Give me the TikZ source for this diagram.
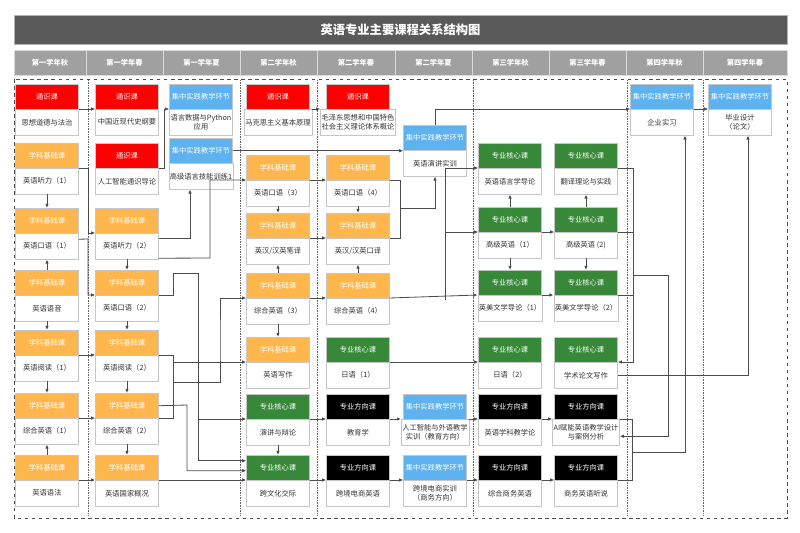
\documentclass[tikz,border=0pt]{standalone}
\usepackage{fontspec}
\setmainfont{Noto Sans CJK SC}
\usetikzlibrary{calc,arrows.meta}
\definecolor{tsred}{RGB}{255,0,0}
\definecolor{jcorange}{RGB}{255,183,77}
\definecolor{hxgreen}{RGB}{56,136,58}
\definecolor{sjblue}{RGB}{94,178,240}
\definecolor{titlegray}{RGB}{89,89,89}
\definecolor{headgray}{RGB}{160,160,160}
\tikzset{
  hd/.style={anchor=north,minimum width=1.89cm,minimum height=0.75cm,inner sep=0pt,
    draw=gray!45,text=white,font=\fontsize{6.2}{7.4}\selectfont},
  bd/.style={anchor=north,minimum width=1.89cm,minimum height=0.78cm,inner sep=1pt,
    draw=gray!45,fill=white,text=black!80,align=center,font=\fontsize{6.2}{7.4}\selectfont},
  tongshi/.style={fill=tsred},
  jichu/.style={fill=jcorange},
  hexin/.style={fill=hxgreen},
  fangxiang/.style={fill=black},
  shijian/.style={fill=sjblue},
  lk/.style={draw=black!70,line width=0.7pt,-{Latex[length=3.5pt,width=3pt]}},
  jn/.style={draw=black!70,line width=0.7pt}
}
% course box: name, x, top, kind, header, body
\newcommand{\crs}[6]{
  \node[hd,#4] (#1h) at (#2,#3) {#5};
  \node[bd] (#1) at (#2,#3+25) {#6};
}
\begin{document}
\begin{tikzpicture}[x=0.03cm,y=-0.03cm]
  \useasboundingbox (0,0) rectangle (800,533);
  % title and terms
  \node[fill=titlegray,draw=gray!60,minimum width=23.19cm,minimum height=0.87cm,text=white,
    font=\bfseries\fontsize{10.5}{12}\selectfont] (title) at (400.5,30) {英语专业主要课程关系结构图};
  \foreach \xa/\xb/\t in {14/86/第一学年秋,86/163/第一学年春,163/240/第一学年夏,240/317/第二学年秋,
      317/395/第二学年春,395/472/第二学年夏,472/549/第三学年秋,549/626/第三学年春,
      626/703/第四学年秋,703/787/第四学年春}
    \draw[draw=gray!30,fill=headgray] (\xa,50) rectangle (\xb,75)
      node[midway,text=white,font=\bfseries\fontsize{6.2}{7}\selectfont] {\t};
  \draw[dashed,draw=black!70,line width=0.7pt] (14,79) rectangle (787,518);
  \foreach \x in {88,240,317,473,627,703}
    \draw[densely dotted,draw=black!60] (\x,80) -- (\x,516);

  % first year autumn
  \crs{a1}{47}{84}{tongshi}{通识课}{思想道德与法治}
  \crs{a2}{47}{143}{jichu}{学科基础课}{英语听力（1）}
  \crs{a3}{47}{208}{jichu}{学科基础课}{英语口语（1）}
  \crs{a4}{47}{270}{jichu}{学科基础课}{英语语音}
  \crs{a5}{47}{330}{jichu}{学科基础课}{英语阅读（1）}
  \crs{a6}{47}{393}{jichu}{学科基础课}{综合英语（1）}
  \crs{a7}{47}{455}{jichu}{学科基础课}{英语语法}
  % first year spring
  \crs{b1}{127}{84}{tongshi}{通识课}{中国近现代史纲要}
  \crs{b2}{127}{143}{tongshi}{通识课}{人工智能通识导论}
  \crs{b3}{127}{208}{jichu}{学科基础课}{英语听力（2）}
  \crs{b4}{127}{270}{jichu}{学科基础课}{英语口语（2）}
  \crs{b5}{127}{330}{jichu}{学科基础课}{英语阅读（2）}
  \crs{b6}{127}{393}{jichu}{学科基础课}{综合英语（2）}
  \crs{b7}{127}{455}{jichu}{学科基础课}{英语国家概况}
  % first year summer
  \crs{c1}{201}{84}{shijian}{集中实践教学环节}{语言数据与Python\\应用}
  \crs{c2}{201}{138}{shijian}{集中实践教学环节}{高级语言技能训练1}
  % second year autumn
  \crs{d1}{278}{84}{tongshi}{通识课}{马克思主义基本原理}
  \crs{d2}{278}{155}{jichu}{学科基础课}{英语口语（3）}
  \crs{d3}{278}{213}{jichu}{学科基础课}{英汉/汉英笔译}
  \crs{d4}{278}{273}{jichu}{学科基础课}{综合英语（3）}
  \crs{d5}{278}{337}{jichu}{学科基础课}{英语写作}
  \crs{d6}{278}{394}{hexin}{专业核心课}{演讲与辩论}
  \crs{d7}{278}{455}{hexin}{专业核心课}{跨文化交际}
  % second year spring
  \crs{e1}{358}{84}{tongshi}{通识课}{毛泽东思想和中国特色\\社会主义理论体系概论}
  \crs{e2}{358}{155}{jichu}{学科基础课}{英语口语（4）}
  \crs{e3}{358}{213}{jichu}{学科基础课}{英汉/汉英口译}
  \crs{e4}{358}{273}{jichu}{学科基础课}{综合英语（4）}
  \crs{e5}{358}{337}{hexin}{专业核心课}{日语（1）}
  \crs{e6}{358}{394}{fangxiang}{专业方向课}{教育学}
  \crs{e7}{358}{455}{fangxiang}{专业方向课}{跨境电商英语}
  % second year summer
  \crs{f1}{435}{125}{shijian}{集中实践教学环节}{英语演讲实训}
  \crs{f6}{435}{394}{shijian}{集中实践教学环节}{人工智能与外语教学\\实训（教育方向）}
  \crs{f7}{435}{455}{shijian}{集中实践教学环节}{跨境电商实训\\（商务方向）}
  % third year autumn
  \crs{g1}{510}{143}{hexin}{专业核心课}{英语语言学导论}
  \crs{g2}{510}{207}{hexin}{专业核心课}{高级英语（1）}
  \crs{g3}{510}{270}{hexin}{专业核心课}{英美文学导论（1）}
  \crs{g4}{510}{337}{hexin}{专业核心课}{日语（2）}
  \crs{g5}{510}{394}{fangxiang}{专业方向课}{英语学科教学论}
  \crs{g6}{510}{455}{fangxiang}{专业方向课}{综合商务英语}
  % third year spring
  \crs{h1}{586}{143}{hexin}{专业核心课}{翻译理论与实践}
  \crs{h2}{586}{207}{hexin}{专业核心课}{高级英语 (2)}
  \crs{h3}{586}{270}{hexin}{专业核心课}{英美文学导论（2）}
  \crs{h4}{586}{337}{hexin}{专业核心课}{学术论文写作}
  \crs{h5}{586}{394}{fangxiang}{专业方向课}{AI赋能英语教学设计\\与案例分析}
  \crs{h6}{586}{455}{fangxiang}{专业方向课}{商务英语听说}
  % fourth year
  \crs{i1}{662}{84}{shijian}{集中实践教学环节}{企业实习}
  \crs{j1}{740}{84}{shijian}{集中实践教学环节}{毕业设计\\（论文）}

  % links, first year
  \draw[lk] (a1.north east) -- (b1.north west);
  \draw[lk] (a2.south) -- (a3h.north);
  \draw[lk] (a4h.north) -- (a3.south);
  \draw[lk] (a4.south) -- (a5h.north);
  \draw[lk] (a5.south) -- (a6h.north);
  \draw[lk] (a7h.north) -- (a6.south);
  \draw[lk] (a2.north east) -- (88,168) |- (b3.north west);
  \draw[lk] ($(a3.east)+(0,-7)$) -- (88,239) |- (b4.north west);
  \draw[lk] (a5.north east) -- (b5.north west);
  \draw[lk] (a6.north east) -- (b6.north west);
  \draw[lk] (a7.north east) -- (b7.north west);
  \draw[lk] (b3.south) -- (b4h.north);
  \draw[lk] (b4.south) -- (b5h.north);
  \draw[lk] (b5.south) -- (b6h.north);
  \draw[lk] (b6.south) -- (b7h.north);
  \draw[lk] (b2.north east) -- (164,168) |- (c1.north west);
  \draw[lk] ($(b3.east)+(0,-8)$) -| ($(c2.south)+(-11,0)$);
  \draw[lk] ($(b3.east)+(0,12)$) -- (210,258) |- (d2.north west);
  \draw[jn] (b4.north east) -- (173,295) -- (173,273) -- (198,273);
  \draw[lk] (198,273) |- (d6.north west);
  \draw[lk] (198,273) |- ($(d7h.west)+(0,-7)$);
  \draw[jn] (b5.north east) -| (173,418) -- (b6.north east);
  \draw[lk] (173,362) -- (d5.north west);
  \draw[lk] (173,382) -| (220,340) |- (d4.north west);
  \draw[lk] (b6h.east) -- (187,405) |- ($(d7h.west)+(0,3)$);
  \draw[lk] (b7.north east) -- (d7.north west);
  \draw[lk] (c2h.east) -- (c2h.east -| f1.west);
  % second year
  \draw[lk] (d1.north east) -- (e1.north west);
  \draw[lk] (d2.north east) -- (e2.north west);
  \draw[lk] (d2.south) -- (d3h.north);
  \draw[lk] (d3.north east) -- (e3.north west);
  \draw[lk] (d4h.north) -- (d3.south);
  \draw[lk] (d4.north east) -- (e4.north west);
  \draw[lk] (d4.south) -- (d5h.north);
  \draw[lk] (e2.south) -- (e3h.north);
  \draw[lk] (e4h.north) -- (e3.south);
  \draw[lk] (d6.south) -- (d7h.north);
  \draw[lk] (d6.north east) -- (e6.north west);
  \draw[lk] (d7.north east) -- (e7.north west);
  \draw[lk] (e6.north east) -- (f6.north west);
  \draw[lk] (e7.north east) -- (f7.north west);
  \draw[jn] (e2.north east) -- (400,180) |- (e3.north east);
  \draw[lk] (400,208) -| (f1.south);
  \draw[lk] (f1h.north) |- (i1.north west);
  \draw[lk] (e4.north east) -- (g3.north west);
  \draw[lk] (445,300) |- (g1.north west);
  \draw[lk] (445,300) |- (g2.north west);
  \draw[lk] (e5.north east) -- (g4.north west);
  \draw[lk] (f6.north east) -- (g5.north west);
  \draw[lk] (f7.north east) -- (g6.north west);
  % third and fourth year
  \draw[lk] (g2h.north) -- (g1.south);
  \draw[lk] (g2.south) -- (g3h.north);
  \draw[lk] (g2.north east) -- (h2.north west);
  \draw[lk] (g3.north east) -- (h3.north west);
  \draw[lk] (g5.north east) -- (h5.north west);
  \draw[lk] (g6.north east) -- (h6.north west);
  \draw[lk] (h2h.north) -- (h1.south);
  \draw[lk] (h2.south) -- (h3h.north);
  \draw[lk] (h1.north east) -- (633,168) |- (h4.north east);
  \draw[jn] (h2.north east) -- (633,232);
  \draw[jn] (h3.north east) -- (633,295);
  \draw[lk] (633,275) -- (668,275) |- ($(h5.east)+(0,4)$);
  \draw[lk] (h4.east) -| ($(j1.south)+(8,0)$);
  \draw[jn] (h5.north east) -- (632,419) |- (h6.north east);
  \draw[lk] (632,452) -| ($(i1.south)+(23,0)$);
  \draw[lk] (i1.north east) -- (j1.north west);
\end{tikzpicture}
\end{document}
